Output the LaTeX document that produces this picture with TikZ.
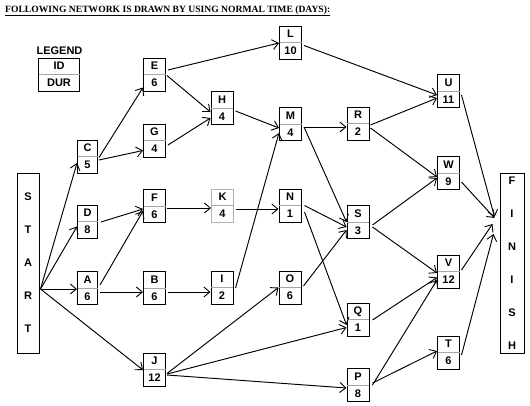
\documentclass[tikz,border=0pt]{standalone}
\usepackage{fontspec}
\setmainfont{Liberation Sans}
\newfontfamily\titlefont{Liberation Serif}
\usetikzlibrary{arrows.meta,calc}

\tikzset{
 actbox/.style={draw=black, line width=1pt, minimum width=22pt, minimum height=33pt, inner sep=0pt},
 narrowbox/.style={minimum width=20pt},
 greybox/.style={draw=gray!60},
 bigbox/.style={draw=black, line width=1pt, minimum width=22pt, minimum height=180pt, inner sep=0pt},
 lbl/.style={font=\bfseries\fontsize{11}{12}\selectfont, inner sep=0pt, text height=7.9pt, text depth=0pt},
 divider/.style={draw=gray!70, line width=0.8pt, shorten >=0.5pt, shorten <=0.5pt},
 arr/.style={line width=0.95pt, -{Straight Barb[length=6pt,width=10pt,line width=0.9pt]}},
}

\newcommand\actnode[6][]{%
 \node[actbox,#1] (#2) at (#3,#4) {};
 \draw[divider] (#2.west) -- (#2.east);
 \node[lbl] at ($(#2.north)!0.25!(#2.south)$) {#5};
 \node[lbl] at ($(#2.north)!0.75!(#2.south)$) {#6};
}

\begin{document}
\begin{tikzpicture}[x=1pt,y=-1pt]
\useasboundingbox[fill=white] (0,0) rectangle (530,405);

% title
\node[anchor=base west, inner sep=0pt, font=\titlefont\bfseries\fontsize{9.6}{10}\selectfont] (title) at (5,12)
 {\underline{FOLLOWING NETWORK IS DRAWN BY USING NORMAL TIME (DAYS):}};

% legend
\node[lbl] (legendlbl) at (59.5,50.5) {LEGEND};
\actnode[minimum width=41pt]{legend}{59}{74.5}{ID}{DUR}

% start / finish
\node[bigbox] (START) at (28,263) {};
\foreach \ch [count=\i] in {S,T,A,R,T}
 \node[lbl] at ($(START.center)+(0,{(\i-3)*33})$) {\ch};
\node[bigbox, minimum width=24pt] (FINISH) at (512,263) {};
\foreach \ch [count=\i] in {F,I,N,I,S,H}
 \node[lbl] at ($(FINISH.center)+(0,{(\i-3.5)*33})$) {\ch};

% activities
\actnode[narrowbox]{C}{87.5}{156.5}{C}{5}
\actnode[narrowbox]{D}{87.5}{221.5}{D}{8}
\actnode[narrowbox]{A}{87.5}{288}{A}{6}
\actnode{E}{154.5}{74.5}{E}{6}
\actnode{G}{154.5}{140.5}{G}{4}
\actnode{F}{154.5}{206}{F}{6}
\actnode{B}{154.5}{288}{B}{6}
\actnode{J}{154.5}{369.5}{J}{12}
\actnode{H}{222}{108}{H}{4}
\actnode[greybox]{K}{222.5}{205.5}{K}{4}
\actnode{I}{222}{287.5}{I}{2}
\actnode{L}{290.5}{42.5}{L}{10}
\actnode{M}{290.5}{124}{M}{4}
\actnode{N}{290}{205.5}{N}{1}
\actnode{O}{290}{287.5}{O}{6}
\actnode{R}{358}{123.5}{R}{2}
\actnode{S}{358}{222}{S}{3}
\actnode{Q}{358}{319.5}{Q}{1}
\actnode{P}{358}{385}{P}{8}
\actnode{U}{448.5}{91}{U}{11}
\actnode{W}{448.5}{173}{W}{9}
\actnode{V}{448.5}{271.5}{V}{12}
\actnode{T}{448.5}{352.5}{T}{6}

\coordinate (st) at ($(START.east)+(1,26)$);

% connectors
\draw[arr] (st) -- ($(C.west)+(0,6.5)$);
\draw[arr] (st) -- ($(D.west)+(0,5)$);
\draw[arr] (st) -- ($(A.west)+(0,1)$);
\draw[arr] (st) -- ($(J.west)+(0,0.5)$);
\draw[arr] ($(C.east)+(1,1)$) -- ($(E.south west)+(0,-4)$);
\draw[arr] ($(C.east)+(1,3.5)$) -- ($(G.west)+(0,10)$);
\draw[arr] ($(E.east)+(2,-4.5)$) -- ($(L.west)+(0,0.5)$);
\draw[arr] ($(E.east)+(1,1)$) -- ($(H.west)+(0,4)$);
\draw[arr] ($(G.east)+(2,4.5)$) -- ($(H.west)+(0,10)$);
\draw[arr] ($(L.east)+(2,3)$) -- ($(U.west)+(0,4)$);
\draw[arr] ($(H.east)+(2,3)$) -- ($(M.west)+(0,4)$);
\draw[arr] ($(M.east)+(2,3)$) -- ($(R.west)+(0,3.5)$);
\draw[arr] ($(M.east)+(2,3)$) -- ($(S.west)+(0,0)$);
\draw[arr] ($(K.east)+(2,3.5)$) -- ($(N.west)+(0,3.5)$);
\draw[arr] ($(F.east)+(1,2)$) -- ($(K.west)+(0,2.5)$);
\draw[arr] ($(I.east)+(2,0.5)$) -- ($(M.west)+(0,9)$);
\draw[arr] ($(N.east)+(3,0)$) -- ($(S.west)+(0,5)$);
\draw[arr] ($(N.east)+(3,6.5)$) -- ($(Q.west)+(0,5.5)$);
\draw[arr] ($(B.east)+(2,4)$) -- ($(I.west)+(0,4.5)$);
\draw[arr] ($(A.east)+(1.5,4)$) -- ($(B.west)+(0,4)$);
\draw[arr] ($(A.east)+(2,-3)$) -- ($(F.west)+(0,5)$);
\draw[arr] ($(D.east)+(3,0.5)$) -- ($(F.west)+(0,3)$);
\draw[arr] ($(J.east)+(1,4)$) -- ($(O.west)+(0,0)$);
\draw[arr] ($(J.east)+(1,4.5)$) -- ($(Q.west)+(0,8)$);
\draw[arr] ($(J.east)+(1,5.5)$) -- ($(P.west)+(0,3)$);
\draw[arr] ($(O.east)+(2,-1.5)$) -- ($(S.west)+(0,8)$);
\draw[arr] ($(R.east)+(1,1.5)$) -- ($(U.west)+(0,7)$);
\draw[arr] ($(R.east)+(1,4.5)$) -- ($(W.west)+(0,4)$);
\draw[arr] ($(S.east)+(3,3)$) -- ($(W.west)+(0,5)$);
\draw[arr] ($(S.east)+(3,5)$) -- ($(V.west)+(0,1.5)$);
\draw[arr] ($(Q.east)+(3,0.5)$) -- ($(V.west)+(0,6)$);
\draw[arr] ($(P.east)+(3,0)$) -- ($(V.west)+(0,8.5)$);
\draw[arr] ($(P.east)+(3,-2)$) -- ($(T.west)+(0,-1.5)$);
\draw[arr] ($(U.east)+(1.5,4)$) -- ($(FINISH.west)+(-5,-46)$);
\draw[arr] ($(W.east)+(1.5,9)$) -- ($(FINISH.west)+(-5,-45)$);
\draw[arr] ($(V.east)+(1.5,-1.5)$) -- ($(FINISH.west)+(-7,-39)$);
\draw[arr] ($(T.east)+(1.5,2.5)$) -- ($(FINISH.west)+(-6,-29)$);
\end{tikzpicture}
\end{document}
